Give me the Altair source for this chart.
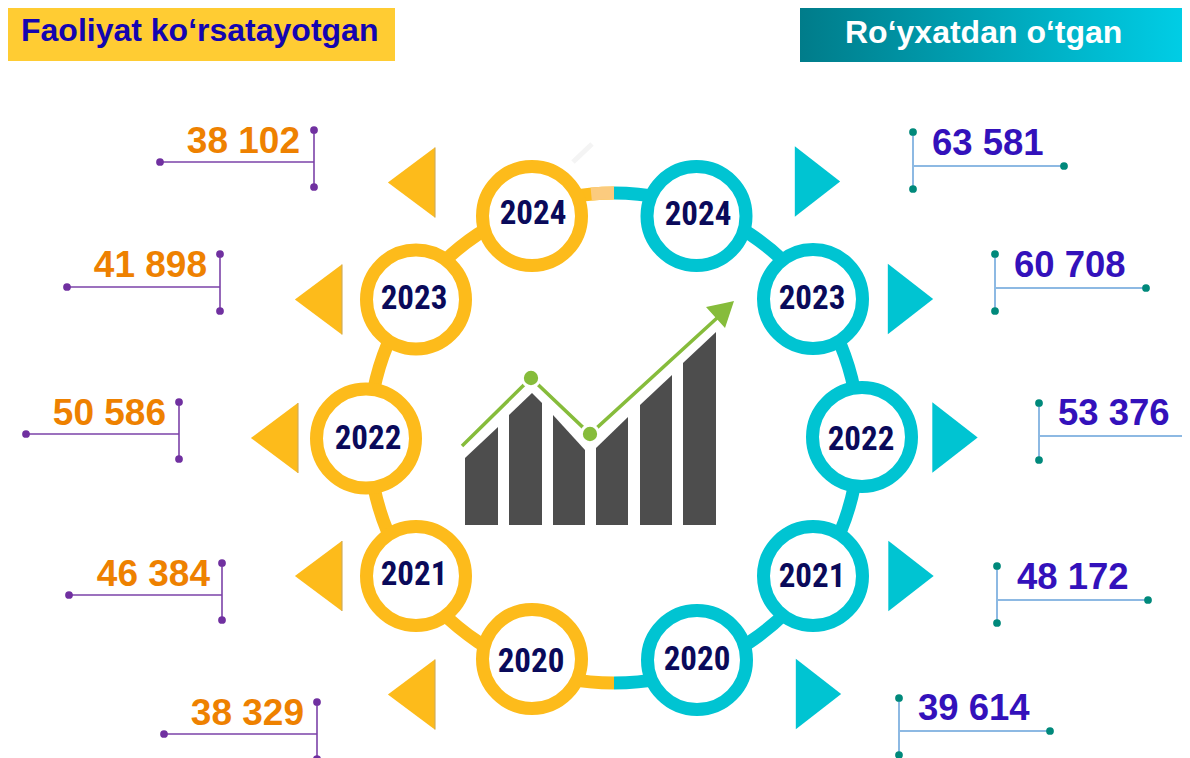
import altair as alt
import pandas as pd

# ---- values ----
years = ["2024", "2023", "2022", "2021", "2020"]
active_values = [38102, 41898, 50586, 46384, 38329]
registered_values = [63581, 60708, 53376, 48172, 39614]
header_left = "Faoliyat ko‘rsatayotgan"
header_right = "Ro‘yxatdan o‘tgan"

# ---- layout (page pixels) ----
ring_left_x = [532, 416, 366, 416, 532]
ring_left_y = [216, 299.5, 438.5, 576, 659]
ring_right_x = [696.5, 813, 862, 813, 697]
ring_right_y = [216, 299, 437, 576, 660]
label_left_x = [533, 414, 368, 414, 531]
label_left_y = [212, 297, 437.5, 573, 660]
label_right_x = [698, 812, 861, 812, 697]
label_right_y = [213, 297, 438, 575, 658]
tri_left_x = [411.5, 318.5, 274.5, 318.5, 411.5]
tri_left_y = [182.5, 299.5, 438, 576, 694.5]
tri_right_x = [817.5, 910.5, 955, 911, 818.5]
tri_right_y = [181.5, 299, 437.5, 576, 694]
call_left_x = [314, 220, 179, 222, 317]
call_left_x0 = [160, 67, 26, 69, 164]
call_left_y = [162, 287, 434, 595, 734]
call_left_top = [130, 254, 402, 563, 702]
text_left_x = [300, 207, 166, 210, 304]
text_left_y = [153, 277, 425, 586, 725]
call_right_x = [913, 995, 1039, 997, 899]
call_right_x1 = [1064, 1146, 1188, 1148, 1050]
call_right_y = [166, 288, 436, 600, 731]
call_right_top = [132, 254, 403, 566, 698]
text_right_x = [932, 1014, 1058, 1017, 918]
text_right_y = [155, 277, 425, 589, 720]

# icon
bar_ids = [1,1, 2,2,2, 3,3, 4,4, 5,5, 6,6]
bar_xs = [465,498, 509,532,542, 553,585, 596,628, 640,672, 683,716]
bar_tops = [458,427, 415,393,403, 415,450, 448,417, 405,375, 363,332]
trend_x = [462, 531, 590, 717]
trend_y = [446, 378, 434, 318]
arrow_x = [706, 725, 734]
arrow_top = [307, 303, 301]
arrow_bottom = [307, 328, 301]
ghost_x = [573]
ghost_x2 = [592]
ghost_y = [162]
ghost_y2 = [144]

W, H = 1174, 750
sx = alt.Scale(domain=[8, 8 + W], nice=False, zero=False)
sy = alt.Scale(domain=[8 + H, 8], nice=False, zero=False)
X = alt.X("x:Q", scale=sx, axis=None)
Y = alt.Y("y:Q", scale=sy, axis=None)
X2 = alt.X2("x2:Q")
Y2 = alt.Y2("y2:Q")

fmt = lambda v: f"{v:,}".replace(",", " ")
ORANGE, TEAL = "#FDBB1B", "#00C4D2"

# headers
head_df = pd.DataFrame({"x": [8, 800], "x2": [395, 1182], "y": [8, 8], "y2": [61, 62]})
head_l = alt.Chart(head_df.iloc[[0]]).mark_rect(color="#FFCC33").encode(x=X, x2=X2, y=Y, y2=Y2)
grad = alt.Gradient(gradient="linear", x1=0, x2=1, y1=0, y2=0,
                    stops=[alt.GradientStop(color="#007C8A", offset=0),
                           alt.GradientStop(color="#00CDE5", offset=1)])
head_r = alt.Chart(head_df.iloc[[1]]).mark_rect(fill=grad).encode(x=X, x2=X2, y=Y, y2=Y2)
head_txt = pd.DataFrame({"x": [21, 845], "y": [41, 43], "t": [header_left, header_right]})
txt_l = alt.Chart(head_txt.iloc[[0]]).mark_text(align="left", baseline="alphabetic", font="Liberation Sans",
        fontWeight="bold", fontSize=32, color="#1405B0").encode(x=X, y=Y, text="t:N")
txt_r = alt.Chart(head_txt.iloc[[1]]).mark_text(align="left", baseline="alphabetic", font="Liberation Sans",
        fontWeight="bold", fontSize=32, color="#FFFFFF").encode(x=X, y=Y, text="t:N")

# connecting circle
center = pd.DataFrame({"x": [614], "y": [438]})
arc_kw = dict(radius=251.5, radius2=238.5)
arc_l = alt.Chart(center).mark_arc(color=ORANGE, theta=3.1416, theta2=6.2832, **arc_kw).encode(x=X, y=Y)
arc_r = alt.Chart(center).mark_arc(color=TEAL, theta=0, theta2=3.1416, **arc_kw).encode(x=X, y=Y)
arc_light = alt.Chart(center).mark_arc(color="#FBCB7E", theta=6.19, theta2=6.2832, **arc_kw).encode(x=X, y=Y)

# rings
ring_df = pd.DataFrame({"x": ring_left_x + ring_right_x, "y": ring_left_y + ring_right_y,
                        "side": ["l"] * 5 + ["r"] * 5})
rings = alt.Chart(ring_df).mark_point(filled=True, fill="white", size=9801, strokeWidth=13, opacity=1).encode(
    x=X, y=Y,
    stroke=alt.Color("side:N", scale=alt.Scale(domain=["l", "r"], range=[ORANGE, TEAL]), legend=None))
label_df = pd.DataFrame({"x": label_left_x + label_right_x, "y": label_left_y + label_right_y, "year": years * 2})
ring_txt = alt.Chart(label_df).mark_text(font="Roboto Condensed, Open Sans Condensed, Liberation Sans", fontWeight="bold",
                                         fontSize=33, dy=1.5, color="#0A0A5A", baseline="middle", align="center"
                                         ).encode(x=X, y=Y, text="year:N")

# triangles
tri_shape_l = "M 0.67 -1 L 0.67 1 L -0.67 0 Z"
tri_shape_r = "M -0.643 -1 L -0.643 1 L 0.643 0 Z"
tri_l = alt.Chart(pd.DataFrame({"x": tri_left_x, "y": tri_left_y})).mark_point(
    shape=tri_shape_l, size=4970, filled=True, color=ORANGE, opacity=1).encode(x=X, y=Y)
tri_r = alt.Chart(pd.DataFrame({"x": tri_right_x, "y": tri_right_y})).mark_point(
    shape=tri_shape_r, size=4970, filled=True, color=TEAL, opacity=1).encode(x=X, y=Y)
base_df = pd.DataFrame({"x": [v + 23.5 for v in tri_left_x], "y": [v - 35 for v in tri_left_y],
                        "y2": [v + 35 for v in tri_left_y]})
tri_base = alt.Chart(base_df).mark_rule(color="#C9A860", strokeWidth=1).encode(x=X, y=Y, y2=Y2)
ghost = alt.Chart(pd.DataFrame({"x": ghost_x, "x2": ghost_x2, "y": ghost_y, "y2": ghost_y2})).mark_rule(
    color="#F4F4F4", strokeWidth=5).encode(x=X, x2=X2, y=Y, y2=Y2)

# callouts
def callout(xv, xh, yh, ytop, line, dot, lw):
    h = pd.DataFrame({"x": xv, "x2": xh, "y": yh})
    v = pd.DataFrame({"x": xv, "y": ytop, "y2": [t + 57 for t in ytop]})
    dots = pd.DataFrame({"x": xh + xv + xv, "y": yh + ytop + [t + 57 for t in ytop]})
    return [
        alt.Chart(h).mark_rule(color=line, strokeWidth=lw).encode(x=X, x2=X2, y=Y),
        alt.Chart(v).mark_rule(color=line, strokeWidth=lw).encode(x=X, y=Y, y2=Y2),
        alt.Chart(dots).mark_circle(color=dot, size=60, opacity=1).encode(x=X, y=Y),
    ]

cl = callout(call_left_x, call_left_x0, call_left_y, call_left_top, "#7B42A8", "#7030A0", 1.6)
cr = callout(call_right_x, call_right_x1, call_right_y, call_right_top, "#8DB9E3", "#00897B", 2)

val_l = alt.Chart(pd.DataFrame({"x": text_left_x, "y": text_left_y, "t": [fmt(v) for v in active_values]})).mark_text(
    align="right", baseline="alphabetic", font="Liberation Sans", fontWeight="bold", fontSize=37, color="#EE8100"
).encode(x=X, y=Y, text="t:N")
val_r = alt.Chart(pd.DataFrame({"x": text_right_x, "y": text_right_y, "t": [fmt(v) for v in registered_values]})).mark_text(
    align="left", baseline="alphabetic", font="Liberation Sans", fontWeight="bold", fontSize=36.5, color="#3311BB"
).encode(x=X, y=Y, text="t:N")

# icon
bars_df = pd.DataFrame({"x": bar_xs, "y": bar_tops, "y2": [525] * len(bar_xs), "b": bar_ids})
bars = alt.Chart(bars_df).mark_area(color="#4D4D4D", opacity=1, interpolate="linear").encode(
    x=X, y=Y, y2=Y2, detail="b:N")
trend_df = pd.DataFrame({"x": trend_x, "y": trend_y, "o": range(4)})
trend = alt.Chart(trend_df).mark_line(color="#86BC3B", strokeWidth=3.5).encode(x=X, y=Y, order="o:Q")
nodes = alt.Chart(trend_df.iloc[1:3]).mark_point(filled=True, fill="#86BC3B", stroke="white", strokeWidth=3,
                                                 size=300, opacity=1).encode(x=X, y=Y)
arrow = alt.Chart(pd.DataFrame({"x": arrow_x, "y": arrow_top, "y2": arrow_bottom})).mark_area(
    color="#86BC3B", opacity=1).encode(x=X, y=Y, y2=Y2)

chart = alt.layer(
    head_l, head_r, txt_l, txt_r, ghost, arc_l, arc_r, arc_light, rings, ring_txt, tri_l, tri_base, tri_r,
    *cl, *cr, val_l, val_r, bars, trend, nodes, arrow
).properties(width=W, height=H, padding=0, autosize=alt.AutoSizeParams(type="none"), background="white"
).configure_view(stroke=None)

chart.save("out.html", embed_options={"renderer": "svg", "actions": False})
